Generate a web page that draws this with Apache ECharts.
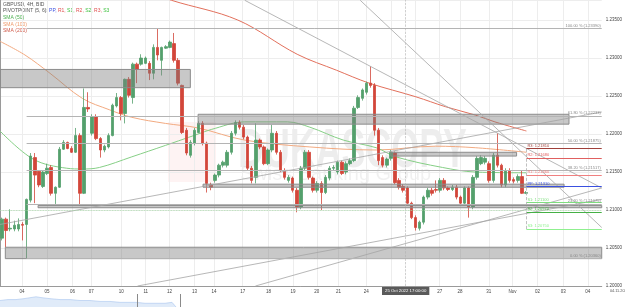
<!DOCTYPE html>
<html>
<head>
<meta charset="utf-8">
<script src="https://cdn.jsdelivr.net/npm/echarts@6/dist/echarts.min.js"></script>
<style>
  html, body { margin: 0; padding: 0; background: #fff; }
  #chart { width: 625px; height: 307px; }
</style>
</head>
<body>
<div id="chart"></div>
<script>
// GBPUSD 4H candles (open, close, low, high)
const opens = [1.2063,1.2088,1.2075,1.2075,1.2075,1.2081,1.2081,1.2113,1.2169,1.2151,
  1.2131,1.2148,1.2156,1.2122,1.2130,1.2180,1.2189,1.2181,1.2176,1.2198,
  1.2122,1.2235,1.2201,1.2223,1.2194,1.2179,1.2183,1.2198,1.2237,1.2248,
  1.2227,1.2272,1.2248,1.2292,1.2292,1.2293,1.2293,1.2280,1.2314,1.2297,
  1.2313,1.2314,1.2319,1.2297,1.2264,1.2205,1.2172,1.2188,1.2202,1.2214,
  1.2188,1.2133,1.2139,1.2146,1.2159,1.2159,1.2176,1.2201,1.2215,1.2209,
  1.2196,1.2155,1.2143,1.2192,1.2183,1.2161,1.2179,1.2201,1.2176,1.2152,
  1.2139,1.2142,1.2126,1.2104,1.2155,1.2176,1.2142,1.2126,1.2135,1.2123,
  1.2142,1.2155,1.2150,1.2163,1.2150,1.2161,1.2165,1.2235,1.2247,1.2255,
  1.2267,1.2264,1.2205,1.2169,1.2159,1.2168,1.2175,1.2139,1.2131,1.2129,
  1.2109,1.2090,1.2076,1.2084,1.2117,1.2126,1.2127,1.2126,1.2139,1.2129,
  1.2127,1.2130,1.2117,1.2109,1.2129,1.2104,1.2143,1.2161,1.2163,1.2161,
  1.2139,1.2172,1.2159,1.2133,1.2152,1.2140,1.2139,1.2144,1.2122];
const closes = [1.2088,1.2073,1.2076,1.2080,1.2081,1.2080,1.2114,1.2171,1.2146,1.2133,
  1.2150,1.2155,1.2122,1.2130,1.2180,1.2189,1.2181,1.2176,1.2198,1.2122,
  1.2235,1.2233,1.2223,1.2194,1.2179,1.2184,1.2198,1.2238,1.2248,1.2227,
  1.2272,1.2251,1.2292,1.2285,1.2300,1.2300,1.2280,1.2314,1.2304,1.2314,
  1.2315,1.2321,1.2297,1.2267,1.2202,1.2175,1.2189,1.2205,1.2214,1.2188,
  1.2135,1.2130,1.2146,1.2159,1.2163,1.2176,1.2201,1.2215,1.2209,1.2196,
  1.2155,1.2139,1.2192,1.2183,1.2161,1.2179,1.2201,1.2176,1.2152,1.2143,
  1.2143,1.2126,1.2104,1.2155,1.2176,1.2143,1.2126,1.2135,1.2123,1.2143,
  1.2155,1.2156,1.2163,1.2148,1.2161,1.2165,1.2234,1.2248,1.2258,1.2267,
  1.2264,1.2205,1.2165,1.2159,1.2167,1.2176,1.2136,1.2130,1.2126,1.2109,
  1.2090,1.2077,1.2084,1.2117,1.2126,1.2122,1.2126,1.2139,1.2129,1.2127,
  1.2130,1.2117,1.2109,1.2129,1.2104,1.2143,1.2168,1.2169,1.2168,1.2139,
  1.2172,1.2159,1.2133,1.2152,1.2139,1.2138,1.2144,1.2122,1.2123];
const lows = [1.2060,1.2051,1.2072,1.2072,1.2072,1.2060,1.2036,1.2110,1.2109,1.2130,
  1.2129,1.2146,1.2119,1.2108,1.2129,1.2179,1.2180,1.2175,1.2175,1.2106,
  1.2121,1.2229,1.2198,1.2192,1.2169,1.2176,1.2181,1.2197,1.2235,1.2218,
  1.2214,1.2248,1.2240,1.2267,1.2290,1.2292,1.2271,1.2272,1.2297,1.2277,
  1.2312,1.2313,1.2294,1.2264,1.2200,1.2172,1.2169,1.2185,1.2201,1.2185,
  1.2123,1.2126,1.2136,1.2143,1.2156,1.2156,1.2173,1.2198,1.2206,1.2193,
  1.2152,1.2135,1.2135,1.2180,1.2159,1.2159,1.2176,1.2173,1.2150,1.2140,
  1.2136,1.2123,1.2097,1.2101,1.2152,1.2140,1.2123,1.2123,1.2100,1.2121,
  1.2139,1.2152,1.2147,1.2146,1.2147,1.2159,1.2163,1.2233,1.2244,1.2252,
  1.2261,1.2198,1.2159,1.2156,1.2156,1.2165,1.2134,1.2127,1.2123,1.2106,
  1.2088,1.2073,1.2073,1.2081,1.2114,1.2119,1.2123,1.2123,1.2126,1.2125,
  1.2125,1.2114,1.2106,1.2106,1.2090,1.2101,1.2140,1.2159,1.2160,1.2136,
  1.2136,1.2156,1.2130,1.2130,1.2136,1.2135,1.2136,1.2121,1.2121];
const highs = [1.2090,1.2090,1.2101,1.2086,1.2089,1.2084,1.2115,1.2175,1.2175,1.2152,
  1.2152,1.2161,1.2159,1.2131,1.2183,1.2192,1.2190,1.2184,1.2208,1.2201,
  1.2260,1.2255,1.2226,1.2226,1.2196,1.2186,1.2201,1.2240,1.2254,1.2250,
  1.2273,1.2275,1.2294,1.2294,1.2305,1.2302,1.2296,1.2318,1.2339,1.2315,
  1.2317,1.2323,1.2333,1.2300,1.2265,1.2208,1.2192,1.2208,1.2217,1.2217,
  1.2190,1.2136,1.2148,1.2161,1.2165,1.2179,1.2204,1.2218,1.2218,1.2212,
  1.2198,1.2158,1.2214,1.2194,1.2185,1.2181,1.2212,1.2204,1.2179,1.2155,
  1.2146,1.2144,1.2129,1.2158,1.2179,1.2179,1.2144,1.2138,1.2138,1.2146,
  1.2158,1.2159,1.2165,1.2165,1.2164,1.2168,1.2237,1.2251,1.2260,1.2269,
  1.2289,1.2267,1.2208,1.2172,1.2169,1.2179,1.2177,1.2142,1.2134,1.2131,
  1.2111,1.2093,1.2086,1.2119,1.2129,1.2129,1.2139,1.2142,1.2142,1.2131,
  1.2133,1.2133,1.2119,1.2131,1.2131,1.2146,1.2171,1.2172,1.2171,1.2164,
  1.2175,1.2201,1.2161,1.2155,1.2155,1.2143,1.2147,1.2152,1.2125];

// time axis: 4H slots, day labels placed at the first slot of each day
const N_SLOTS = 147;
const dayLabels = ['04','05','06','07','10','11','12','13','14','17','18','19','20','21','24','25','26','27','28','31','Nov','02','03','04'];
const dayPos = [5.4,11.5,17.7,22.3,29.6,35.6,41.4,47.5,52.3,59.3,65.6,71.6,77.4,82.7,89.5,95.5,101.5,107.4,112.4,119.4,125.2,131.3,137.6,143.6];
const hiddenDays = ['25','26']; // under the crosshair date box

// moving averages, [slot, price]
const sma50 = [[0,1.2204],[8.1,1.2167],[16.3,1.2155],[20.1,1.2154],[24.3,1.2156],[32.2,1.2170],[40.4,1.2185],[43.6,1.2191],[48.4,1.2200],[51.6,1.2206],[59.8,1.2216],[70.2,1.2216],[75.7,1.2209],[83.9,1.2192],[91.9,1.2182],[96.7,1.2170],[108.1,1.2156],[116.1,1.2150],[128.6,1.2149]];
const sma100 = [[0,1.2322],[6.1,1.2304],[12.2,1.2280],[20.1,1.2247],[26.7,1.2232],[32.2,1.2222],[40.4,1.2214],[48.4,1.2208],[59.8,1.2192],[75.7,1.2183],[91.9,1.2179],[106.4,1.2184],[116.1,1.2182],[128.6,1.2176]];
const sma200 = [[38.8,1.2383],[41.9,1.2376],[58.1,1.2350],[72.6,1.2305],[82.2,1.2284],[90.2,1.2267],[101.6,1.2249],[108.8,1.2236],[116.1,1.2225],[120.9,1.2216],[128.6,1.2204]];

// support / resistance boxes: [fromSlot, toSlot, top, bottom]
const zones = [
  [0, 46.5, 1.2285, 1.2261],
  [48.4, 139.0, 1.2226, 1.2213],
  [95.5, 126.2, 1.2176, 1.2171],
  [49.6, 137.8, 1.2134, 1.2130],
  [9.3, 147, 1.2106, 1.2103],
  [1.3, 147, 1.2051, 1.2036]
];

// trend lines: two points each
const trendLines = [
  [[59.8,1.2376],[147,1.2129]],
  [[88.0,1.2376],[147,1.2077]],
  [[0,1.2081],[147,1.2229]],
  [[33.6,1.2000],[147,1.2114]],
  [[62.4,1.2000],[147,1.2129]]
];

// fibonacci retracement
const fibLow = 1.2036, fibHigh = 1.2339, fibStart = 6.5;
const fibRatios = [1, 0.618, 0.5, 0.382, 0.236, 0];

// pivot points
const pivotNames = ['R3','R2','R1','PP','S1','S2','S3'];
const pivotValues = [1.2181, 1.2168, 1.2146, 1.2131, 1.2110, 1.2097, 1.2075];
const pivotColors = ['#a0403a','#e06060','#f08080','#3a50e0','#7ede7e','#45b045','#8ff08f'];
const pivotStart = 128.6;

// price tags on the right axis
const tagValues = [1.2372, 1.2202, 1.2180, 1.2167, 1.2150, 1.2144, 1.2131, 1.2123, 1.2110, 1.2097, 1.2073];
const tagColors = ['#555555','#8e2a20','#8b1a1a','#cc3333','#3c9c3c','#e04848','#2f44d8','#e4f1e4','#44cc44','#2e9a2e','#7ee07e'];
const lastPrice = 1.2123;

// navigator strip at the bottom
const navX = [0,8,16,24,30,36,42,50,60,70,80,90,100,110,120,130,136,137,145,155,165,172,176];
const navH = [7,8,8,9,10,11,10,9,8,8,7,7,6,6,5,5,5,4,4,4,4,5,0];

const candles = opens.map((o, i) => [o, closes[i], lows[i], highs[i]]);
const slotNames = Array.from({ length: N_SLOTS }, (_, i) => String(i));

const fontFamily = 'Liberation Sans, Arial, sans-serif';

let myChart = echarts.init(document.getElementById('chart'));

let dayLabel = (v) => {
  let i = dayPos.findIndex(p => Math.abs(p - v) < 0.01);
  if (i < 0) return '';
  return hiddenDays.includes(dayLabels[i]) ? '' : dayLabels[i];
};

let smaSeries = (name, data, color) => ({
  name: name,
  type: 'line',
  xAxisIndex: 1,
  yAxisIndex: 0,
  data: data,
  smooth: 0.35,
  symbol: 'none',
  z: 2,
  lineStyle: { color: color, width: 1 },
  silent: true
});

myChart.setOption({
  animation: false,
  backgroundColor: '#ffffff',
  textStyle: { fontFamily: fontFamily },
  grid: [
    { left: -0.4, right: 17, top: 0, bottom: 21 },
    { left: 0, right: 17, top: 294, bottom: 0 }
  ],
  xAxis: [
    { type: 'category', gridIndex: 0, data: slotNames, boundaryGap: true, show: false, position: 'bottom' },
    {
      type: 'value', gridIndex: 0, min: 0, max: N_SLOTS, position: 'bottom',
      axisLine: { show: true, lineStyle: { color: '#9a9a9a', width: 1 } },
      axisTick: { show: false, customValues: dayPos },
      axisLabel: { customValues: dayPos, formatter: dayLabel, fontSize: 4.5, color: '#444', margin: 3 },
      splitLine: { show: true, lineStyle: { color: '#ededed', width: 1 } }
    },
    { type: 'value', gridIndex: 1, min: 0, max: 608, show: false }
  ],
  yAxis: [
    {
      type: 'value', gridIndex: 0, position: 'right', min: 1.2, max: 1.23764, interval: 0.005,
      axisLine: { show: true, lineStyle: { color: '#9a9a9a', width: 1 } },
      axisTick: { show: false },
      axisLabel: { fontSize: 4.5, color: '#444', margin: 4, showMaxLabel: false, formatter: v => v.toFixed(5) },
      splitLine: { show: true, lineStyle: { color: '#ededed', width: 1 } }
    },
    { type: 'value', gridIndex: 1, min: 0, max: 14, show: false }
  ],
  graphic: [
    { type: 'rect', left: 168, top: 122, shape: { width: 48, height: 60 }, style: { fill: 'rgba(235,90,90,0.07)' }, z: -1 },
    { type: 'text', left: 238, top: 124, scaleX: 0.64, style: { text: 'DUKASCOPY', fontSize: 56, fontWeight: 'bold', fontFamily: fontFamily, fill: 'rgba(0,0,0,0.07)' }, z: -1 },
    { type: 'text', left: 240, top: 164, style: { text: 'Swiss Banking Group', fontSize: 20, fontFamily: fontFamily, fill: 'rgba(0,0,0,0.06)' }, z: -1 },
    { type: 'text', left: 3, top: 2, style: { text: 'GBPUSD, 4H, BID', fontSize: 5, fontFamily: fontFamily, fill: '#555' } },
    {
      type: 'text', left: 3, top: 8.5,
      style: {
        text: 'PIVOTPOINT (5, 6): {b|PP,} {r|R1,} {g|S1,} {r|R2,} {g|S2,} {r|R3,} {g|S3}',
        fontSize: 5, fontFamily: fontFamily, fill: '#555',
        rich: {
          b: { fill: '#3a50e0', color: '#3a50e0', fontSize: 5 },
          r: { fill: '#e05050', color: '#e05050', fontSize: 5 },
          g: { fill: '#3cbf3c', color: '#3cbf3c', fontSize: 5 }
        }
      }
    },
    { type: 'text', left: 3, top: 15, style: { text: 'SMA (50)', fontSize: 5, fontFamily: fontFamily, fill: '#4caf50' } },
    { type: 'text', left: 3, top: 21.7, style: { text: 'SMA (100)', fontSize: 5, fontFamily: fontFamily, fill: '#ef9a6a' } },
    { type: 'text', left: 3, top: 28.4, style: { text: 'SMA (200)', fontSize: 5, fontFamily: fontFamily, fill: '#cf5a4a' } },
    { type: 'text', left: 610, top: 289, style: { text: '04.11.2022', fontSize: 3.8, fontFamily: fontFamily, fill: '#555' } }
  ],
  series: [
    smaSeries('SMA (200)', sma200, '#e2705c'),
    smaSeries('SMA (100)', sma100, '#f2aa80'),
    smaSeries('SMA (50)', sma50, '#86cf86'),
    {
      name: 'GBPUSD',
      type: 'candlestick',
      xAxisIndex: 0,
      yAxisIndex: 0,
      data: candles,
      barWidth: 3,
      z: 3,
      itemStyle: {
        color: '#54a06c', color0: '#d2463a',
        borderColor: '#54a06c', borderColor0: '#d2463a',
        borderWidth: 0.8
      },
      silent: true
    },
    {
      name: 'zones',
      type: 'line',
      xAxisIndex: 1,
      yAxisIndex: 0,
      data: [],
      z: 4,
      silent: true,
      markArea: {
        silent: true,
        z: 4,
        itemStyle: { color: 'rgba(125,125,125,0.42)', borderColor: '#8c8c8c', borderWidth: 1 },
        data: zones.map(zn => [{ coord: [zn[0], zn[2]] }, { coord: [zn[1], zn[3]] }])
      }
    },
    {
      name: 'drawings',
      type: 'line',
      xAxisIndex: 1,
      yAxisIndex: 0,
      data: [],
      z: 5,
      silent: true,
      markLine: {
        silent: true,
        symbol: ['none', 'none'],
        animation: false,
        data: [].concat(
          trendLines.map(t => [
            { coord: t[0], lineStyle: { color: '#a4a4a4', width: 0.8, type: 'solid' }, label: { show: false } },
            { coord: t[1] }
          ]),
          fibRatios.map(r => {
            let v = fibLow + r * (fibHigh - fibLow);
            return [
              {
                coord: [fibStart, v],
                lineStyle: { color: '#b4b4b4', width: 1, type: 'solid' },
                label: {
                  show: true, position: 'insideEndTop', distance: 1, fontSize: 4, color: '#888',
                  formatter: (r * 100).toFixed(2) + ' % (' + v.toFixed(5) + ')'
                }
              },
              { coord: [N_SLOTS, v] }
            ];
          }),
          pivotValues.map((v, i) => [
            {
              coord: [pivotStart, v],
              lineStyle: { color: pivotColors[i], width: 1, type: 'solid' },
              label: {
                show: true, position: 'insideStartTop', distance: 1, fontSize: 4, color: pivotColors[i],
                formatter: pivotNames[i] + ': ' + v.toFixed(5)
              }
            },
            { coord: [N_SLOTS, v] }
          ]),
          [[
            { coord: [pivotStart, pivotValues[6]], lineStyle: { color: '#b0b0b0', width: 0.8 }, label: { show: false } },
            { coord: [pivotStart, pivotValues[0]] }
          ]]
        )
      }
    },
    {
      name: 'tags',
      type: 'line',
      xAxisIndex: 1,
      yAxisIndex: 0,
      data: [],
      z: 6,
      silent: true,
      markLine: {
        silent: true,
        symbol: ['none', 'none'],
        animation: false,
        data: [].concat(
          [{
            yAxis: lastPrice,
            lineStyle: { color: '#a8dca8', width: 0.8, type: 'dotted' },
            label: { show: false }
          }],
          [{
            xAxis: 99.1,
            lineStyle: { color: '#b0b0b0', width: 0.6, type: 'dashed' },
            label: {
              show: true, position: 'start', distance: 1, fontSize: 4.3,
              color: '#fff', backgroundColor: '#5a5a5a', padding: [2, 3],
              formatter: '25 Oct 2022 17:00:00'
            }
          }],
          tagValues.map((v, i) => ({
            yAxis: v,
            lineStyle: { opacity: 0 },
            label: {
              show: true, position: 'end', distance: 1, fontSize: 4.3,
              color: tagColors[i] === '#e4f1e4' ? '#3a7a3a' : '#ffffff',
              backgroundColor: tagColors[i], padding: [1, 1],
              formatter: v.toFixed(5)
            }
          }))
        )
      }
    },
    {
      name: 'navigator',
      type: 'line',
      xAxisIndex: 2,
      yAxisIndex: 1,
      data: navX.map((x, i) => [x, navH[i]]),
      symbol: 'none',
      silent: true,
      lineStyle: { color: '#a8c4ee', width: 0.6 },
      areaStyle: { color: '#d3e2f7' },
      markLine: {
        silent: true,
        symbol: ['none', 'none'],
        label: { show: false },
        lineStyle: { color: '#8a8a8a', width: 1, type: 'solid' },
        data: [{ xAxis: 137 }, { xAxis: 180 }]
      }
    }
  ]
});

window.addEventListener('resize', function () {
  myChart.resize();
});
</script>
</body>
</html>
